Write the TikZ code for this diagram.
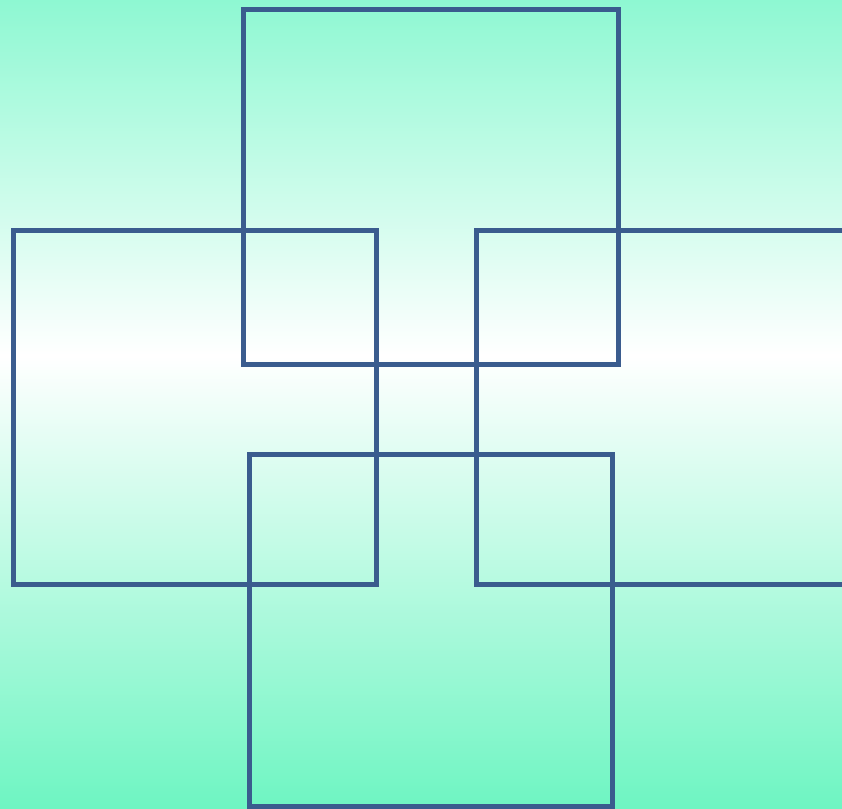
\documentclass[tikz,border=0pt]{standalone}
\usepackage{xcolor}
\usepackage{tikz}
\definecolor{mintTop}{HTML}{8EF8D2}
\definecolor{mintBot}{HTML}{6EF5C2}
\definecolor{frameBlue}{HTML}{3A5C8E}
\pgfdeclareverticalshading{mintfade}{100bp}{color(0bp)=(mintBot); color(25bp)=(mintBot);
  color(53bp)=(white); color(75bp)=(mintTop); color(100bp)=(mintTop)}

\begin{document}
\begin{tikzpicture}[
      x=1pt, y=1pt,
      frame/.style={draw=frameBlue, line width=5pt, line join=miter}
    ]
    % background
    \useasboundingbox (0,0) rectangle (842,808);
    \clip (0,0) rectangle (842,808);
    \shade[shading=mintfade] (0,0) rectangle (842,808);
    % four squares
    \draw[frame] (243.5,798) rectangle (618,443);   % top
    \draw[frame] (13.5,577) rectangle (376,223);    % left
    \draw[frame] (476,577) rectangle (850,223);     % right
    \draw[frame] (249,353) rectangle (612,2);       % bottom
  \end{tikzpicture}
\end{document}
